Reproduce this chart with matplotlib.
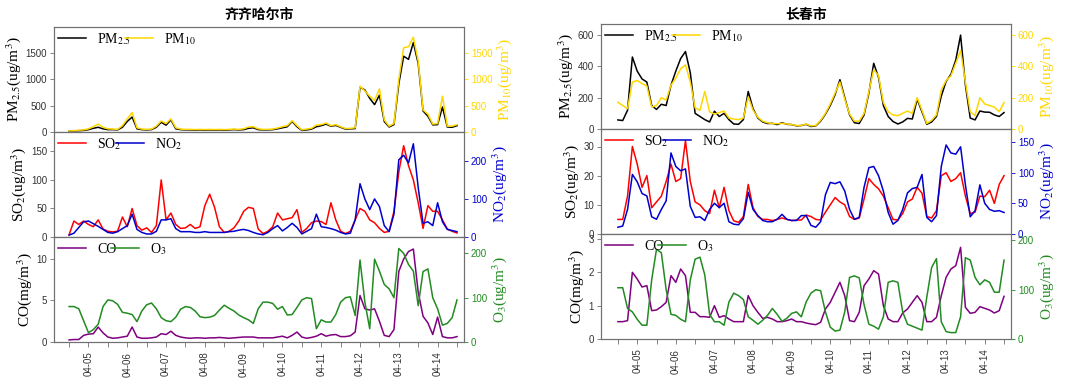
import pandas as pd
import matplotlib
matplotlib.use('Agg')
import matplotlib.pyplot as plt
import matplotlib.dates as mdates
from matplotlib.ticker import MultipleLocator

plt.rcParams['font.family'] = ['Liberation Sans', 'DejaVu Sans']
plt.rcParams['mathtext.fontset'] = 'stix'

# 3-hourly samples, 04-04 12:00 .. 04-14 12:00
times = pd.date_range('2023-04-04 12:00', periods=81, freq='3h')

# ---- 齐齐哈尔市 ----
qq_pm25 = [15, 20, 25, 30, 45, 70, 90, 60, 45, 45, 40, 90, 200, 285, 60, 45, 40, 45, 90, 185,
           130, 230, 60, 45, 40, 40, 35, 40, 35, 40, 35, 40, 35, 40, 45, 40, 45, 70, 80, 45,
           40, 40, 45, 60, 80, 100, 200, 100, 30, 40, 55, 100, 120, 150, 110, 125, 90, 55, 60, 65,
           850, 800, 640, 520, 700, 200, 95, 140, 918, 1440, 1380, 1700, 1300, 400, 300, 135, 140, 475, 95, 90,
           120]
qq_pm10 = [20, 25, 35, 40, 60, 100, 150, 90, 60, 55, 50, 120, 250, 370, 80, 55, 50, 55, 110, 210,
           160, 250, 80, 55, 50, 50, 45, 50, 45, 50, 45, 50, 45, 50, 55, 50, 60, 95, 100, 60,
           50, 50, 55, 75, 100, 120, 215, 120, 40, 55, 70, 130, 140, 170, 120, 140, 100, 65, 70, 80,
           870, 780, 680, 600, 820, 230, 110, 160, 1000, 1600, 1620, 1800, 1350, 420, 340, 150, 160, 680, 110, 110,
           140]
qq_so2 = [4, 28, 22, 28, 22, 18, 30, 14, 10, 9, 10, 35, 18, 50, 20, 12, 16, 8, 20, 100,
          30, 42, 22, 15, 16, 22, 15, 18, 55, 75, 52, 18, 8, 10, 16, 28, 45, 52, 50, 14,
          6, 10, 18, 42, 30, 32, 34, 48, 8, 15, 25, 28, 27, 22, 60, 30, 10, 6, 10, 30,
          50, 45, 30, 25, 15, 8, 10, 45, 114, 160, 125, 100, 60, 15, 55, 45, 45, 30, 14, 10,
          7]
qq_no2 = [5, 10, 25, 40, 42, 35, 28, 20, 12, 10, 14, 22, 30, 60, 20, 12, 8, 8, 15, 45,
          45, 48, 22, 14, 14, 14, 12, 12, 14, 12, 12, 12, 12, 14, 15, 18, 20, 17, 12, 8,
          6, 12, 22, 30, 16, 25, 36, 25, 8, 15, 22, 60, 27, 25, 22, 18, 12, 8, 10, 45,
          140, 100, 72, 100, 80, 30, 14, 60, 203, 215, 195, 245, 130, 36, 40, 30, 90, 40, 20, 17,
          14]
qq_co = [0.25, 0.3, 0.3, 0.8, 0.95, 1.0, 1.8, 1.1, 0.6, 0.45, 0.5, 0.6, 0.7, 1.8, 0.6, 0.45, 0.45, 0.5, 0.6, 1.0,
         0.9, 1.3, 0.8, 0.6, 0.5, 0.45, 0.5, 0.5, 0.45, 0.5, 0.5, 0.55, 0.5, 0.45, 0.5, 0.55, 0.6, 0.6, 0.6, 0.5,
         0.5, 0.5, 0.5, 0.6, 0.7, 0.5, 0.8, 1.2, 0.6, 0.45, 0.55, 0.7, 1.0, 0.7, 0.85, 0.9, 0.65, 0.65, 0.75, 1.2,
         5.6, 4.0, 3.85, 4.0, 2.5, 0.8, 0.65, 1.5, 8.5, 10.0, 10.9, 11.2, 6.0, 3.1, 2.3, 0.9, 3.0, 0.65, 0.5, 0.5,
         0.65]
qq_o3 = [80, 80, 75, 48, 21, 28, 40, 80, 95, 93, 85, 67, 65, 62, 46, 70, 84, 88, 75, 55,
         48, 46, 56, 74, 80, 78, 70, 57, 55, 56, 60, 72, 83, 76, 70, 61, 55, 50, 42, 75,
         90, 90, 87, 74, 80, 61, 62, 78, 95, 100, 98, 30, 50, 45, 45, 62, 90, 100, 102, 60,
         185, 90, 30, 187, 160, 130, 120, 100, 211, 200, 175, 160, 82, 159, 165, 100, 75, 38, 42, 55,
         95]

# ---- 长春市 ----
cc_pm25 = [58, 54, 120, 460, 370, 320, 300, 150, 125, 158, 150, 280, 370, 450, 495, 360, 100, 80, 60, 45,
           114, 80, 100, 60, 32, 30, 60, 240, 130, 70, 45, 35, 36, 28, 40, 30, 28, 20, 22, 30,
           16, 20, 50, 95, 150, 220, 315, 200, 90, 40, 35, 90, 230, 420, 330, 150, 80, 48, 32, 45,
           68, 64, 190, 110, 30, 45, 80, 210, 305, 350, 440, 600, 280, 70, 58, 115, 108, 107, 90, 80,
           105]
cc_pm10 = [171, 150, 130, 300, 310, 290, 275, 140, 150, 200, 185, 280, 325, 385, 410, 300, 135, 120, 240, 110,
           95, 105, 115, 70, 64, 60, 70, 205, 120, 75, 50, 40, 34, 34, 36, 32, 28, 22, 22, 32,
           20, 22, 55, 100, 160, 230, 300, 190, 95, 50, 50, 100, 240, 380, 340, 170, 110, 90, 85, 100,
           115, 100, 200, 120, 35, 55, 90, 250, 310, 340, 420, 500, 300, 110, 85, 200, 160, 150, 140, 110,
           170]
cc_so2 = [5, 5, 13, 30, 24, 16, 20, 9, 11, 13, 18, 24, 18, 19, 32, 18, 11, 10, 8, 7,
          15, 9, 16, 8, 4.5, 4, 6, 17, 9, 6, 5, 5, 4.6, 5, 5.5, 5, 4.6, 4.8, 4.8, 6.5,
          6, 5, 4.8, 7.5, 10, 12.5, 11, 10, 6, 5, 5.5, 12, 19, 17, 15.5, 13, 9, 5, 4.8, 7,
          11, 12, 16, 14, 6, 5.5, 8, 20, 21, 18, 19, 21, 13, 7, 7.5, 13, 12.8, 15, 10.5, 17,
          20]
cc_no2 = [11, 13, 40, 97, 85, 66, 62, 28, 24, 40, 54, 132, 110, 103, 106, 45, 27, 28, 22, 40,
          50, 43, 50, 20, 16, 15, 25, 68, 40, 30, 22, 20, 20, 24, 32, 24, 22, 22, 30, 30,
          14, 11, 20, 64, 84, 82, 85, 70, 40, 24, 27, 76, 108, 110, 95, 70, 35, 16, 22, 40,
          67, 74, 76, 97, 27, 20, 30, 110, 145, 132, 130, 142, 80, 28, 38, 80, 50, 40, 37, 38,
          35]
cc_co = [0.52, 0.52, 0.55, 2.0, 1.8, 1.56, 1.6, 0.85, 0.87, 0.97, 1.1, 1.9, 1.7, 2.1, 1.9, 0.8, 0.8, 0.67, 0.67, 0.65,
         1.0, 0.65, 0.7, 0.6, 0.52, 0.52, 0.52, 1.3, 1.0, 0.8, 0.62, 0.65, 0.6, 0.52, 0.52, 0.55, 0.6, 0.52, 0.52, 0.48,
         0.45, 0.43, 0.5, 0.9, 1.1, 1.4, 1.7, 1.3, 0.55, 0.52, 0.8, 1.6, 1.8, 2.05, 1.95, 1.0, 0.6, 0.52, 0.52, 0.78,
         0.9, 1.1, 1.3, 1.1, 0.52, 0.52, 0.65, 1.3, 1.85, 2.1, 2.2, 2.75, 0.95, 0.77, 0.8, 0.97, 0.92, 0.87, 0.78, 0.85,
         1.28]
cc_o3 = [104, 104, 62, 55, 40, 28, 28, 120, 182, 175, 100, 50, 48, 40, 35, 120, 162, 166, 130, 50,
         35, 35, 28, 75, 93, 88, 80, 45, 38, 30, 38, 48, 62, 50, 36, 42, 52, 55, 45, 75,
         93, 100, 98, 55, 24, 16, 18, 55, 125, 128, 124, 70, 30, 26, 20, 45, 115, 118, 115, 55,
         30, 26, 22, 18, 85, 145, 163, 35, 15, 13, 13, 45, 165, 160, 125, 110, 120, 115, 95, 95,
         160]

SERIF = ['Liberation Serif', 'DejaVu Serif']
TICK_GRAY = '#333333'
SPINE_GRAY = '#707070'


def pair_panel(ax, y1, y2, c1, c2, lab1, lab2, ylab1, ylab2, lim1, lim2, step1, step2):
    ax2 = ax.twinx()
    l1, = ax.plot(times, y1, color=c1, lw=1.1)
    l2, = ax2.plot(times, y2, color=c2, lw=1.1)
    ax.set_ylim(*lim1)
    ax2.set_ylim(*lim2)
    ax.yaxis.set_major_locator(MultipleLocator(step1))
    ax2.yaxis.set_major_locator(MultipleLocator(step2))
    ax.set_ylabel(ylab1, family=SERIF, fontsize=11, labelpad=2)
    ax2.set_ylabel(ylab2, family=SERIF, fontsize=11, color=c2, labelpad=2)
    ax.tick_params(axis='y', labelsize=7, labelcolor=TICK_GRAY, length=3, width=0.6, color=SPINE_GRAY, pad=2)
    ax2.tick_params(axis='y', labelsize=7, labelcolor=c2, length=3, width=0.6, color=c2, pad=2)
    for a in (ax, ax2):
        for s in a.spines.values():
            s.set_color(SPINE_GRAY)
            s.set_linewidth(0.8)
    ax2.legend([l1, l2], [lab1, lab2], loc='upper left', ncol=2, frameon=False,
               prop={'family': SERIF, 'size': 10}, handlelength=2.0,
               handletextpad=0.8, columnspacing=-0.4, borderaxespad=0.1,
               borderpad=0.2)
    return ax2


def draw_city(fig, left_px, top_px, title, pm25, pm10, so2, no2, co, o3, limits, steps, xlim):
    W, H = 1074.0, 389.0
    row_h = 105.0
    axes = []
    for r in range(3):
        bottom = 1 - (top_px + (r + 1) * row_h) / H
        ax = fig.add_axes([left_px / W, bottom, 410 / W, row_h / H])
        axes.append(ax)
    pair_panel(axes[0], pm25, pm10, 'black', 'gold', 'PM$_{2.5}$', 'PM$_{10}$',
               'PM$_{2.5}$(ug/m$^3$)', 'PM$_{10}$(ug/m$^3$)', limits[0], limits[1], steps[0], steps[1])
    pair_panel(axes[1], so2, no2, 'red', 'mediumblue', 'SO$_2$', 'NO$_2$',
               'SO$_2$(ug/m$^3$)', 'NO$_2$(ug/m$^3$)', limits[2], limits[3], steps[2], steps[3])
    pair_panel(axes[2], co, o3, 'purple', 'forestgreen', 'CO', 'O$_3$',
               'CO(mg/m$^3$)', 'O$_3$(ug/m$^3$)', limits[4], limits[5], steps[4], steps[5])
    for i, ax in enumerate(axes):
        ax.set_xlim(*xlim)
        if i < 2:
            ax.tick_params(axis='x', which='both', bottom=False, labelbottom=False)
    bx = axes[2]
    bx.xaxis.set_major_locator(mdates.DayLocator())
    bx.xaxis.set_minor_locator(mdates.HourLocator(byhour=12))
    bx.xaxis.set_major_formatter(mdates.DateFormatter('%m-%d'))
    bx.tick_params(axis='x', which='both', length=3.5, width=0.6, color=SPINE_GRAY,
                   labelsize=7, labelcolor=TICK_GRAY, labelrotation=90)
    fig.text((left_px + 205) / W, 1 - 15 / H, title, ha='center', va='center',
             family=['Noto Sans CJK SC', 'DejaVu Sans'], fontsize=10, fontweight='bold')


fig = plt.figure(figsize=(10.74, 3.89), dpi=100)

draw_city(fig, 54, 27, '齐齐哈尔市', qq_pm25, qq_pm10, qq_so2, qq_no2, qq_co, qq_o3,
          [(0, 1995), (0, 1995), (0, 184), (0, 276), (0, 12.65), (0, 237)],
          [500, 500, 50, 100, 5, 100],
          (pd.Timestamp('2023-04-04 02:40'), pd.Timestamp('2023-04-14 16:20')))
draw_city(fig, 601, 24, '长春市', cc_pm25, cc_pm10, cc_so2, cc_no2, cc_co, cc_o3,
          [(0, 671), (0, 671), (0, 36), (0, 171), (0, 3.15), (0, 213)],
          [200, 200, 10, 50, 1, 100],
          (pd.Timestamp('2023-04-04 01:30'), pd.Timestamp('2023-04-14 16:20')))

fig.savefig('out.png', dpi=100)
